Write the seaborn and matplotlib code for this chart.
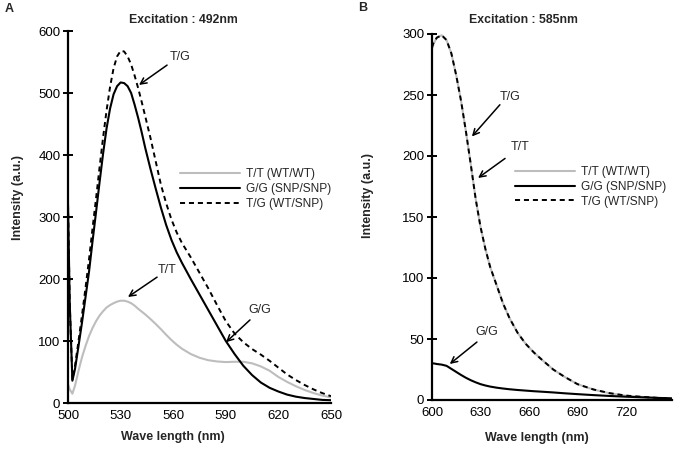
import matplotlib
matplotlib.use("Agg")
import matplotlib.pyplot as plt
import pandas as pd
import seaborn as sns

# Panel A: excitation 492 nm
wl_a = [500, 501, 502.5, 504, 506, 508, 510, 512, 514, 516, 518, 520, 522, 524,
        526, 528, 530, 532, 534, 536, 538, 540, 542, 544, 547, 550, 553, 556,
        559, 562, 565, 570, 575, 580, 585, 590, 595, 600, 605, 610, 615, 620,
        625, 630, 635, 640, 645, 650]
tt_a = [30, 22, 15, 28, 52, 74, 92, 108, 121, 132, 141, 148, 154, 158,
        161, 163.5, 165, 165, 163.5, 161, 157, 152, 147.5, 143, 135.5, 127.5, 119, 110,
        101.5, 94, 87.5, 79, 73, 69, 67, 66, 66.5, 66.5, 64, 59, 52, 42,
        34, 27, 21, 16, 12, 9]
gg_a = [320, 160, 36, 55, 92, 130, 171, 212, 261, 308, 356, 402, 443, 475,
        498, 511, 517, 516, 511, 500, 481, 460, 437, 412, 378, 346, 315, 287,
        263, 243, 226, 200, 175, 150, 125, 100, 79, 60, 45, 33, 24.5, 18.5,
        13.5, 10.2, 8, 6.5, 5, 4.5]
tg_a = [320, 160, 38, 60, 100, 142, 186, 232, 282, 330, 380, 428, 472, 510,
        540, 559, 568, 567, 559, 546, 528, 508, 486, 463, 428, 390, 352, 322,
        296, 275, 258, 235, 210, 185, 158, 132, 112, 98, 87, 78, 68, 57,
        46, 37, 29, 22, 16, 11]

# Panel B: excitation 585 nm
wl_b = [600, 601, 603, 606, 609, 612, 615, 618, 621, 624, 627, 630, 633, 636,
        640, 644, 648, 653, 658, 663, 668, 675, 682, 690, 700, 710, 720, 730,
        740, 748]
tt_b = [288, 292, 297, 299, 295, 284, 266, 245, 220, 193, 165, 142, 124, 109,
        94, 79, 67, 55, 46, 39, 33, 25, 19, 13, 8.5, 5.5, 3.5, 2.5,
        1.6, 1.2]
gg_b = [30, 30, 29.5, 29, 28, 25.5, 23, 20.5, 18.2, 16.2, 14.5, 13, 11.9, 11,
        10.1, 9.4, 8.8, 8.2, 7.7, 7.2, 6.8, 6.2, 5.5, 4.8, 4, 3.3, 2.7, 2.2,
        1.7, 1.4]
tg_b = [289, 293, 297, 299, 295, 284, 266, 245, 220, 193, 165, 142, 124, 109,
        94, 79, 67, 55, 46, 39, 33, 25, 19, 13, 8.6, 5.6, 3.6, 2.6,
        1.7, 1.3]

labels = ["T/T (WT/WT)", "G/G (SNP/SNP)", "T/G (WT/SNP)"]
x_ticks_a = [500, 530, 560, 590, 620, 650]
y_ticks_a = [0, 100, 200, 300, 400, 500, 600]
x_ticks_b = [600, 630, 660, 690, 720]
y_ticks_b = [0, 50, 100, 150, 200, 250, 300]

sns.set_style("ticks")
plt.rcParams["font.family"] = ["Liberation Sans", "DejaVu Sans"]

W, H = 675, 449
fig = plt.figure(figsize=(W / 100, H / 100), dpi=100)


def px_axes(l, r, t, b):
    return fig.add_axes([l / W, 1 - b / H, (r - l) / W, (b - t) / H])


ax_a = px_axes(68, 331, 31, 403)
ax_b = px_axes(432, 672, 34, 400)


def draw(ax, wl, tt, gg, tg):
    df = pd.DataFrame({"wl": wl, "tt": tt, "gg": gg, "tg": tg})
    sns.lineplot(data=df, x="wl", y="tt", ax=ax, color="#bdbdbd", lw=1.5,
                 label=labels[0], zorder=2)
    sns.lineplot(data=df, x="wl", y="gg", ax=ax, color="black", lw=1.5,
                 label=labels[1], zorder=3)
    sns.lineplot(data=df, x="wl", y="tg", ax=ax, color="black", lw=1.4,
                 linestyle=(0, (2.6, 2.0)), label=labels[2], zorder=4)
    ax.set_xlabel("")
    ax.set_ylabel("")
    sns.despine(ax=ax)
    for s in ("left", "bottom"):
        ax.spines[s].set_linewidth(1.6)
        ax.spines[s].set_color("black")
    ax.tick_params(axis="y", direction="inout", length=7, width=1.4,
                   labelsize=9.5, pad=2, colors="black")
    ax.tick_params(axis="x", length=0, labelsize=9.5, pad=5, colors="black")


draw(ax_a, wl_a, tt_a, gg_a, tg_a)
draw(ax_b, wl_b, tt_b, gg_b, tg_b)

ax_a.set_xlim(500, 650)
ax_a.set_ylim(0, 600)
ax_a.set_xticks(x_ticks_a)
ax_a.set_yticks(y_ticks_a)
ax_b.set_xlim(600, 748.5)
ax_b.set_ylim(0, 300)
ax_b.set_xticks(x_ticks_b)
ax_b.set_yticks(y_ticks_b)

leg_kw = dict(frameon=False, fontsize=8.6, handlelength=5.0, handletextpad=0.55,
              labelspacing=0.22, borderpad=0, borderaxespad=0, loc="center left")
ax_a.legend(bbox_to_anchor=(0.426, 0.575), **leg_kw)
ax_b.legend(bbox_to_anchor=(0.346, 0.582), **leg_kw)

arrow = dict(arrowstyle="->", color="black", lw=1.1, mutation_scale=11,
             shrinkA=0, shrinkB=0)


def note(ax, text, tip, start, txt):
    ax.annotate("", xy=tip, xytext=start, arrowprops=arrow)
    ax.text(txt[0], txt[1], text, ha="center", va="center", fontsize=9)


note(ax_a, "T/G", (540.5, 513), (556.5, 545), (564, 558))
note(ax_a, "T/T", (534.2, 171), (550.8, 203), (556.5, 214))
note(ax_a, "G/G", (590.1, 98), (603.8, 134), (609.5, 150))
note(ax_b, "T/G", (624.7, 216), (642, 242), (648.2, 248))
note(ax_b, "T/T", (628.5, 182), (645.2, 198), (654.4, 207))
note(ax_b, "G/G", (611, 29.5), (627.8, 47.5), (634, 56))


def ftext(x, y, s, **kw):
    fig.text(x / W, 1 - y / H, s, ha="center", va="center", **kw)


ftext(183, 20, "Excitation : 492nm", fontsize=8.8, fontweight="bold")
ftext(523, 20, "Excitation : 585nm", fontsize=8.8, fontweight="bold")
ftext(9, 9, "A", fontsize=9, fontweight="bold")
ftext(363, 8, "B", fontsize=9, fontweight="bold")
ftext(173, 437, "Wave length (nm)", fontsize=9, fontweight="bold")
ftext(537, 438, "Wave length (nm)", fontsize=9, fontweight="bold")
ftext(18, 197, "Intensity (a.u.)", fontsize=9, fontweight="bold", rotation=90)
ftext(368, 195, "Intensity (a.u.)", fontsize=9, fontweight="bold", rotation=90)

fig.savefig("out.png", dpi=100)
